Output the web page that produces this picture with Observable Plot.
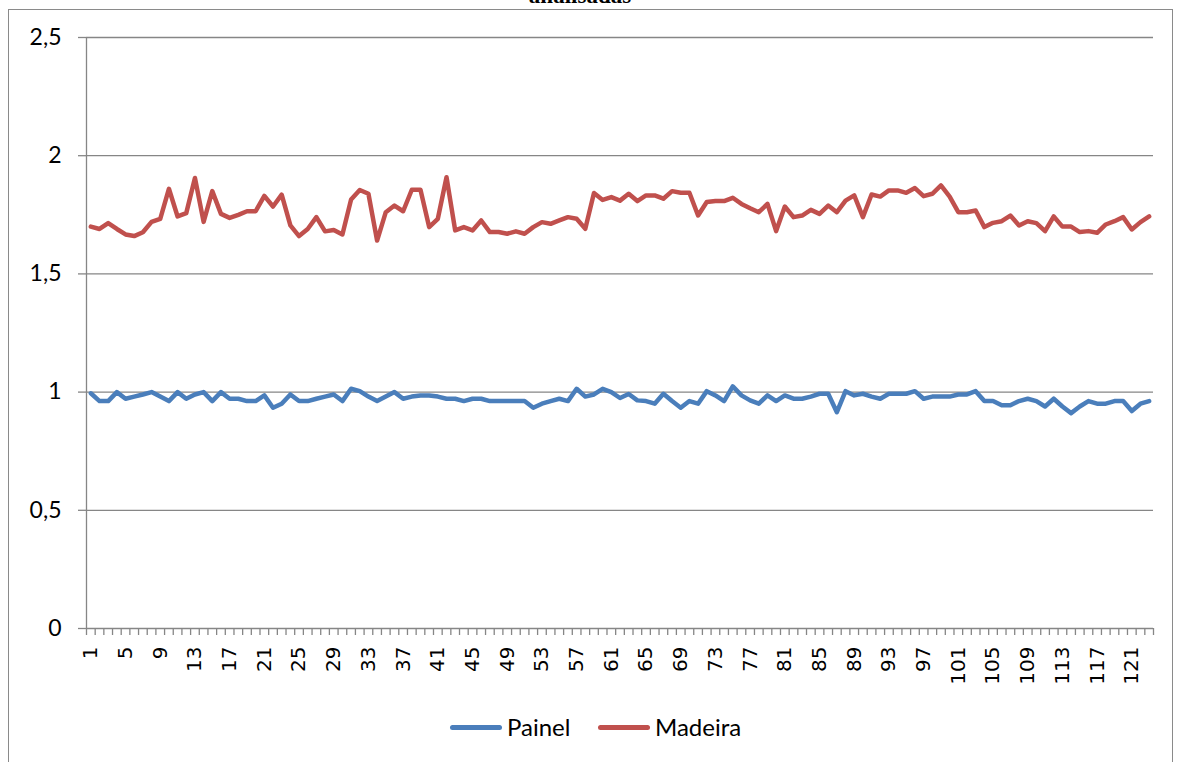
<!DOCTYPE html>
<html><head><meta charset="utf-8">
<script src="https://cdn.jsdelivr.net/npm/d3@7"></script>
<script src="https://cdn.jsdelivr.net/npm/@observablehq/plot@0.6"></script>
<style>
html,body{margin:0;padding:0;background:#fff}
body{width:1181px;height:762px;overflow:hidden;position:relative;font-family:Lato,sans-serif}
#frame{position:absolute;left:8px;top:9px;width:1165px;height:800px;border:1px solid #8a8a8a;box-sizing:border-box}
#title{position:absolute;top:-16px;left:480px;width:200px;text-align:center;font:bold 23px "Liberation Serif",serif;line-height:23px;color:#000}
#chart{position:absolute;left:0;top:0}
#legend{position:absolute;top:712px;left:0;width:1181px;height:30px}
.item{position:absolute;top:0;display:flex;align-items:center;font-family:Lato,sans-serif;font-size:24px;color:#000;line-height:30px}
.sw{display:inline-block;width:52px;height:5px;border-radius:2.5px;margin-right:5px}
</style></head>
<body>
<div id="frame"></div>
<div id="title">analisadas</div>
<div id="chart"></div>
<div id="legend"></div>
<script>
const seriesNames = ["Painel", "Madeira"];
const seriesColors = ["#4a7ebb", "#c0504d"];
const yTicks = [0, 0.5, 1, 1.5, 2, 2.5];
const xLabels = [1,5,9,13,17,21,25,29,33,37,41,45,49,53,57,61,65,69,73,77,81,85,89,93,97,101,105,109,113,117,121];
const painel = [
0.995,0.962,0.962,1.000,0.972,0.981,0.990,1.000,0.981,0.962,
1.000,0.972,0.990,1.000,0.962,1.000,0.972,0.972,0.962,0.962,
0.986,0.934,0.951,0.990,0.962,0.962,0.972,0.981,0.990,0.962,
1.014,1.004,0.981,0.962,0.981,1.000,0.972,0.981,0.986,0.986,
0.981,0.972,0.972,0.962,0.972,0.972,0.962,0.962,0.962,0.962,
0.962,0.934,0.951,0.962,0.972,0.962,1.014,0.981,0.990,1.014,
1.000,0.975,0.992,0.965,0.962,0.951,0.993,0.962,0.934,0.962,
0.951,1.004,0.986,0.962,1.024,0.986,0.965,0.951,0.986,0.962,
0.986,0.972,0.972,0.981,0.993,0.993,0.915,1.004,0.986,0.993,
0.981,0.972,0.993,0.993,0.993,1.004,0.972,0.981,0.981,0.981,
0.990,0.990,1.004,0.962,0.962,0.944,0.944,0.962,0.972,0.962,
0.939,0.972,0.939,0.911,0.939,0.962,0.951,0.951,0.962,0.962,
0.920,0.951,0.962];
const madeira = [
1.700,1.690,1.715,1.690,1.667,1.660,1.676,1.720,1.733,1.860,
1.743,1.757,1.906,1.720,1.850,1.754,1.737,1.750,1.765,1.765,
1.830,1.785,1.835,1.705,1.660,1.690,1.740,1.680,1.686,1.667,
1.815,1.855,1.839,1.641,1.761,1.789,1.765,1.856,1.856,1.698,
1.733,1.909,1.684,1.698,1.684,1.726,1.677,1.677,1.670,1.680,
1.670,1.698,1.719,1.712,1.726,1.740,1.733,1.691,1.842,1.813,
1.825,1.810,1.839,1.808,1.832,1.832,1.818,1.850,1.843,1.843,
1.747,1.804,1.808,1.808,1.822,1.796,1.778,1.761,1.796,1.681,
1.785,1.740,1.747,1.771,1.754,1.789,1.761,1.810,1.832,1.740,
1.836,1.827,1.853,1.853,1.843,1.863,1.829,1.839,1.874,1.827,
1.761,1.761,1.768,1.698,1.716,1.723,1.747,1.705,1.723,1.715,
1.681,1.743,1.700,1.700,1.677,1.681,1.674,1.709,1.723,1.740,
1.688,1.719,1.743];
const categories = painel.map((_, i) => i + 1);

const rows = [];
categories.forEach((c, i) => {
  rows.push({x: c, y: painel[i], s: seriesNames[0]});
  rows.push({x: c, y: madeira[i], s: seriesNames[1]});
});
const n = categories.length;
const boundaries = categories.map(c => c - 0.5).concat([n + 0.5]);
const grid = "#868686";
const H = 700;

const chart = Plot.plot({
  width: 1181, height: H,
  marginLeft: 86, marginRight: 28, marginTop: 37, marginBottom: H - 628,
  x: {domain: [0.5, n + 0.5], axis: null},
  y: {domain: [0, 2.5], axis: null},
  color: {domain: seriesNames, range: seriesColors},
  style: {background: "transparent", color: "#000", overflow: "visible"},
  marks: [
    Plot.ruleY(yTicks, {stroke: grid, strokeWidth: 1.3}),
    Plot.axisY({ticks: yTicks, label: null, tickSize: 8, tickPadding: 17, stroke: grid, strokeWidth: 1.3,
      tickFormat: d => String(d).replace(".", ","), fontSize: 23, fontFamily: "Lato", fill: "#000"}),
    Plot.ruleX([0.5], {stroke: grid, strokeWidth: 1.3}),
    Plot.axisX({ticks: boundaries, label: null, tickSize: 7, tickFormat: () => "", stroke: grid, strokeWidth: 1.3}),
    Plot.axisX({ticks: xLabels, label: null, tickSize: 0, tickPadding: 18, tickRotate: -90,
      fontSize: 20, fontFamily: "DejaVu Sans", fill: "#000"}),
    Plot.line(rows, {x: "x", y: "y", z: "s", stroke: "s", strokeWidth: 4.5, strokeLinejoin: "round", strokeLinecap: "round"})
  ]
});
document.getElementById("chart").appendChild(chart);

const legend = document.getElementById("legend");
const lefts = [450, 598];
seriesNames.forEach((name, i) => {
  const it = document.createElement("div");
  it.className = "item";
  it.style.left = lefts[i] + "px";
  it.innerHTML = `<span class="sw" style="background:${seriesColors[i]}"></span><span>${name}</span>`;
  legend.appendChild(it);
});
</script>
</body></html>
